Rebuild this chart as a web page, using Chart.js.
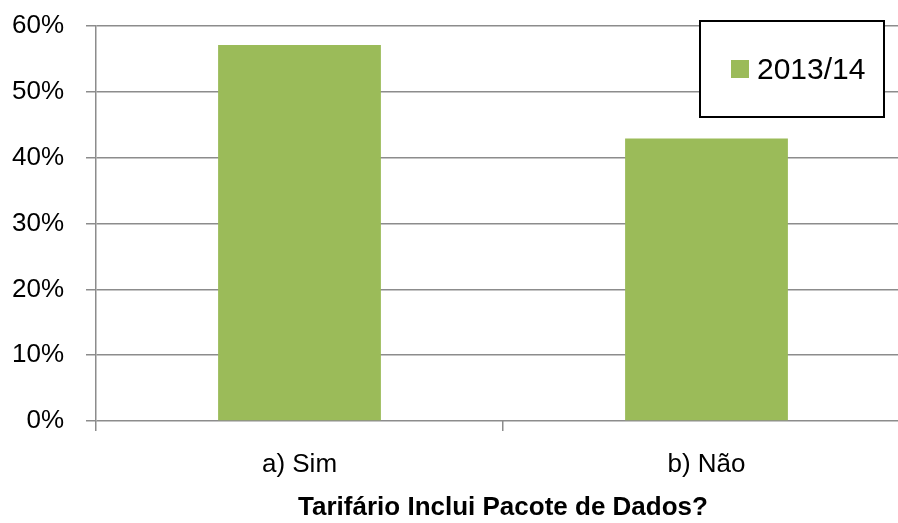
<!DOCTYPE html>
<html>
<head>
<meta charset="utf-8">
<script src="https://cdn.jsdelivr.net/npm/chart.js@4/dist/chart.umd.min.js"></script>
<style>
  html, body { margin: 0; padding: 0; background: #fff; overflow: hidden; }
  #wrap { position: relative; width: 910px; height: 523px; }
</style>
</head>
<body>
<div id="wrap"><canvas id="chart"></canvas></div>
<script>
// === Data ===
const categories = ["a) Sim", "b) Não"];
const seriesLabel = "2013/14";
const seriesValues = [57.1, 42.9];   // percent
const yTicks = [0, 10, 20, 30, 40, 50, 60];
const axisTitle = "Tarifário Inclui Pacote de Dados?";

// === Style ===
const FONT = "'Liberation Sans', Arial, sans-serif";
const BAR = "#9BBB59";
const GRID = "#8c8c8c";

// Legend drawn as a boxed panel in the top right
const boxLegend = {
  id: "boxLegend",
  afterDatasetsDraw(chart) {
    const ctx = chart.ctx;
    const ds = chart.data.datasets[0];
    const x = 700, y = 21, w = 184, h = 96;
    ctx.save();
    ctx.fillStyle = "#fff";
    ctx.fillRect(x, y, w, h);
    ctx.strokeStyle = "#000";
    ctx.lineWidth = 2;
    ctx.strokeRect(x, y, w, h);
    ctx.fillStyle = ds.backgroundColor;
    ctx.fillRect(731, 60, 18, 18);
    ctx.fillStyle = "#000";
    ctx.font = "30px " + FONT;
    ctx.textBaseline = "alphabetic";
    ctx.fillText(ds.label, 757, 79);
    ctx.restore();
  }
};

new Chart(document.getElementById("chart"), {
  type: "bar",
  data: {
    labels: categories,
    datasets: [{
      label: seriesLabel,
      data: seriesValues,
      backgroundColor: BAR,
      borderWidth: 0,
      categoryPercentage: 0.8,
      barPercentage: 0.5,
    }]
  },
  options: {
    responsive: true,
    maintainAspectRatio: false,
    animation: false,
    layout: { padding: { top: 26, left: 0, right: 0, bottom: 0 } },
    plugins: { legend: { display: false }, tooltip: { enabled: false } },
    scales: {
      x: {
        grid: { drawOnChartArea: false, drawTicks: true, tickLength: 10, color: GRID, lineWidth: 1.5 },
        border: { display: false },
        ticks: { color: "#000", font: { family: FONT, size: 26 }, padding: 18 },
        title: {
          display: true,
          text: axisTitle,
          color: "#000",
          font: { family: FONT, size: 26, weight: "bold" },
          padding: { top: 0, bottom: 0 }
        },
        afterFit: (s) => { s.height = 102; s.paddingLeft = 0; s.paddingRight = 0; }
      },
      y: {
        min: 0,
        max: 60,
        afterBuildTicks: (s) => { s.ticks = yTicks.map(v => ({ value: v })); },
        grid: { color: GRID, lineWidth: 1.5, tickLength: 10 },
        border: { color: GRID, width: 1.5 },
        ticks: {
          color: "#000",
          font: { family: FONT, size: 26 },
          padding: 22,
          callback: (v) => v + "%"
        },
        afterFit: (s) => { s.width = 96; s.paddingTop = 0; s.paddingBottom = 0; }
      }
    }
  },
  plugins: [boxLegend]
});
</script>
</body>
</html>
